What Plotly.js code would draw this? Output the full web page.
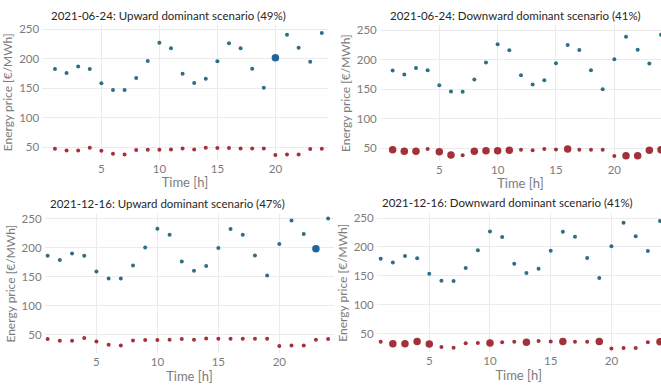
<!DOCTYPE html>
<html>
<head>
<meta charset="utf-8">
<script src="https://cdn.plot.ly/plotly-3.0.1.min.js"></script>
<style>html,body{margin:0;padding:0;background:#fff;}#chart{width:661px;height:386px;}</style>
</head>
<body>
<div id="chart"></div>
<script>
// ---- data ----
const hours = [1,2,3,4,5,6,7,8,9,10,11,12,13,14,15,16,17,18,19,20,21,22,23,24];

const panelTitles = [
  "2021-06-24: Upward dominant scenario (49%)",
  "2021-06-24: Downward dominant scenario (41%)",
  "2021-12-16: Upward dominant scenario (47%)",
  "2021-12-16: Downward dominant scenario (41%)"
];

// upward (upper) price series per panel
const p1Up = [182.6,175.8,187,182.6,158.2,146.9,146.9,167.3,196.2,227.3,217.7,174.6,158.8,166.1,195.6,226.2,217.7,183.1,150.8,201.8,240.9,218.8,195,243.8];
const p2Up = [181.3,174.5,185.8,181.8,156.5,145.8,145.2,166.1,194.8,225.8,215.6,173.4,157.6,164.9,193.7,224.6,216.2,181.8,149.7,200.4,238.6,216.6,193.1,242];
const p3Up = [186.2,178.7,190.2,186.2,159.2,147.1,147.1,169.5,200.6,232.8,222.4,176.4,160.3,168.4,199.4,232.2,222.4,186.8,152.3,206.3,247.1,223.6,198.3,250.6];
const p4Up = [179.7,173.3,184.3,180.3,153.7,141.6,141,163.5,194.1,226.9,217.1,171,154.9,162.4,193.5,226.4,217.7,180.8,146.3,201,241.9,218.3,192.9,244.8];

// downward (lower) price series per panel
const p1Down = [47.2,44.3,44.3,48.9,43.8,38.7,37.5,44.9,45.5,45.5,46,47.7,46,48.9,48.3,48.3,47.7,47.7,47.7,36.4,37.5,37.5,46.6,47.2];
const p2Down = [47.2,44.4,44.4,48.3,43.8,38.2,37.6,44.4,45.5,45.5,46.1,47.2,46.1,48.3,47.7,48.3,47.2,47.2,47.2,36.5,37,37,46.1,47.2];
const p3Down = [42.5,39.7,39.7,44.3,38.5,32.8,31.6,40.2,40.8,40.8,41.4,42.5,41.4,43.7,43.1,43.1,43.1,43.1,43.1,30.5,31.6,31.6,41.4,42.5];
const p4Down = [36.2,32.7,32.7,36.7,32.1,27,25.8,33.3,33.9,33.9,35,36.2,35,37.3,36.7,36.7,36.2,36.2,36.7,24.6,25.2,25.2,35,36.2];

// hours highlighted (dominant scenario) per panel
const p1UpHighlight = [20];
const p2DownHighlight = [1,2,3,5,6,8,9,10,11,16,21,22,23,24];
const p3UpHighlight = [23];
const p4DownHighlight = [2,3,4,5,10,13,16,19,24];

const xTicks = [5,10,15,20];
const yTicks = [50,100,150,200,250];

// ---- styles ----
const BLUE = "#2f6f86", BLUE_BIG = "#1f659c", RED = "#a3313a";
const SMALL = 4, BIG = 7.5;
const FONT = "Lato, 'Open Sans', sans-serif";

function sizes(hl){ return hours.map(h => hl.includes(h) ? BIG : SMALL); }
function colors(hl, base, big){ return hours.map(h => hl.includes(h) ? big : base); }

const panels = [
  {up:p1Up, dn:p1Down, upHl:p1UpHighlight, dnHl:[]},
  {up:p2Up, dn:p2Down, upHl:[], dnHl:p2DownHighlight},
  {up:p3Up, dn:p3Down, upHl:p3UpHighlight, dnHl:[]},
  {up:p4Up, dn:p4Down, upHl:[], dnHl:p4DownHighlight}
];

const traces = [];
panels.forEach((p,i) => {
  const sfx = i===0 ? "" : String(i+1);
  traces.push({x:hours, y:p.up, type:"scatter", mode:"markers", xaxis:"x"+sfx, yaxis:"y"+sfx,
    name:"Upward", cliponaxis:false,
    marker:{size:sizes(p.upHl), color:colors(p.upHl, BLUE, BLUE_BIG), opacity:1, line:{width:0}}, hoverinfo:"skip"});
  traces.push({x:hours, y:p.dn, type:"scatter", mode:"markers", xaxis:"x"+sfx, yaxis:"y"+sfx,
    name:"Downward", cliponaxis:false,
    marker:{size:sizes(p.dnHl), color:RED, opacity:1, line:{width:0}}, hoverinfo:"skip"});
});

const W = 661, H = 386;
const geo = [
  {x:[42.2,327.6], xr:[-0.1,24.5], y:[160,24.6], yr:[28,258], t:[168,15]},
  {x:[379.8,661], xr:[-0.1,24.0], y:[161,25.3], yr:[28,258], t:[515,15]},
  {x:[44.6,334.2], xr:[0.75,24.5], y:[353.3,214.1], yr:[18,258], t:[167.5,203]},
  {x:[376.7,660.6], xr:[0.67,24.05], y:[352.2,213.4], yr:[18,258], t:[507,202.3]}
];

const TICKC = "#7c7c7c";
const layout = {
  width:W, height:H,
  margin:{l:0,r:0,t:0,b:0},
  paper_bgcolor:"#ffffff", plot_bgcolor:"#ffffff",
  showlegend:false, hovermode:false,
  font:{family:FONT, color:TICKC, size:11},
  annotations:[]
};

geo.forEach((g,i) => {
  const sfx = i===0 ? "" : String(i+1);
  layout["xaxis"+sfx] = {
    domain:[g.x[0]/W, Math.min(1, g.x[1]/W)], range:g.xr, anchor:"y"+sfx,
    tickvals:xTicks, ticktext:xTicks.map(String), showgrid:true, gridcolor:"#ebebeb", gridwidth:1,
    zeroline:false, showline:false, ticks:"", tickfont:{size:11.5, color:TICKC, family:FONT},
    title:{text:"Time [h]", font:{size:13, color:TICKC, family:FONT}, standoff:2}
  };
  layout["yaxis"+sfx] = {
    domain:[1-g.y[0]/H, 1-g.y[1]/H], range:g.yr, anchor:"x"+sfx,
    tickvals:yTicks, ticktext:yTicks.map(String), showgrid:true, gridcolor:"#ebebeb", gridwidth:1,
    zeroline:false, showline:false, ticks:"", ticklabelstandoff:2, tickfont:{size:11.5, color:TICKC, family:FONT},
    title:{text:"Energy price [€/MWh]", font:{size:12, color:TICKC, family:FONT}, standoff:3}
  };
  layout.annotations.push({
    text:panelTitles[i], xref:"paper", yref:"paper", x:g.t[0]/W, y:1-g.t[1]/H,
    xanchor:"center", yanchor:"middle", showarrow:false,
    font:{size:11.5, color:"#262626", family:FONT}
  });
});

Plotly.newPlot("chart", traces, layout, {displayModeBar:false, staticPlot:true});
</script>
</body>
</html>
